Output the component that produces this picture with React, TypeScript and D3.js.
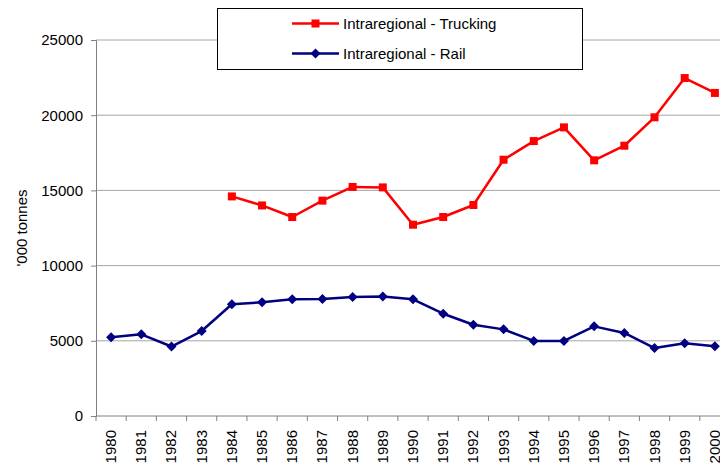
import React, { useRef, useEffect } from 'react';
import * as d3 from 'd3';

const years = ['1980', '1981', '1982', '1983', '1984', '1985', '1986', '1987', '1988', '1989', '1990',
  '1991', '1992', '1993', '1994', '1995', '1996', '1997', '1998', '1999', '2000'];

// trucking starts in 1984
const trucking = [null, null, null, null, 14600, 14000, 13230, 14320, 15230, 15200, 12720,
  13230, 14030, 17040, 18280, 19190, 17000, 17970, 19860, 22470, 21480];

const rail = [5240, 5430, 4620, 5650, 7430, 7560, 7760, 7780, 7910, 7950, 7760,
  6800, 6070, 5760, 4990, 4990, 5960, 5520, 4520, 4830, 4630];

const yTicks = [0, 5000, 10000, 15000, 20000, 25000];

const seriesInfo = [
  { name: 'Intraregional - Trucking', values: trucking, color: '#ff0000', marker: 'square' },
  { name: 'Intraregional - Rail', values: rail, color: '#000080', marker: 'diamond' }
];

const W = 720;
const H = 465;
const FONT = 'Liberation Sans, Arial, sans-serif';

const App = () => {
  const svgRef = useRef(null);

  useEffect(() => {
    const svg = d3.select(svgRef.current);
    svg.selectAll('*').remove();

    // plot area runs past the right edge of the picture, like the original
    const left = 96, right = 730, top = 40, bottom = 416;

    const x = d3.scaleBand().domain(years).range([left, right]);
    const y = d3.scaleLinear().domain([0, 25000]).range([bottom, top]);

    // gridlines
    svg.append('g')
      .selectAll('line')
      .data(yTicks.filter(t => t > 0))
      .enter()
      .append('line')
      .attr('x1', left).attr('x2', right)
      .attr('y1', d => y(d)).attr('y2', d => y(d))
      .attr('stroke', '#a6a6a6')
      .attr('stroke-width', 1);

    // y axis
    const yAxis = svg.append('g')
      .attr('transform', `translate(${left},0)`)
      .call(d3.axisLeft(y).tickValues(yTicks).tickSize(5).tickPadding(8).tickFormat(d3.format('d')));
    yAxis.select('.domain').attr('stroke', '#808080');
    yAxis.selectAll('.tick line').attr('stroke', '#808080');
    yAxis.selectAll('text')
      .attr('font-family', FONT).attr('font-size', 15).attr('fill', '#000');

    // x axis: ticks on category boundaries
    const xg = svg.append('g').attr('transform', `translate(0,${bottom})`);
    xg.append('line')
      .attr('x1', left).attr('x2', right)
      .attr('stroke', '#808080');
    xg.selectAll('.tk')
      .data(years.concat(['end']))
      .enter()
      .append('line')
      .attr('class', 'tk')
      .attr('x1', (d, i) => left + i * x.bandwidth())
      .attr('x2', (d, i) => left + i * x.bandwidth())
      .attr('y1', 0).attr('y2', 5)
      .attr('stroke', '#808080');
    xg.selectAll('text')
      .data(years)
      .enter()
      .append('text')
      .attr('transform', d => `translate(${x(d) + x.bandwidth() / 2 + 5},14) rotate(-90)`)
      .attr('text-anchor', 'end')
      .attr('font-family', FONT)
      .attr('font-size', 15)
      .text(d => d);

    // y axis title
    svg.append('text')
      .attr('transform', `translate(27,${(top + bottom) / 2}) rotate(-90)`)
      .attr('text-anchor', 'middle')
      .attr('font-family', FONT)
      .attr('font-size', 15)
      .text("'000 tonnes");

    const drawMarker = (g, cx, cy, s) => {
      if (s.marker === 'square') {
        g.append('rect')
          .attr('x', cx - 4).attr('y', cy - 4)
          .attr('width', 8).attr('height', 8)
          .attr('fill', s.color);
      } else {
        g.append('path')
          .attr('d', `M${cx},${cy - 5}L${cx + 5},${cy}L${cx},${cy + 5}L${cx - 5},${cy}Z`)
          .attr('fill', s.color);
      }
    };

    // series
    seriesInfo.forEach(s => {
      const pts = years.map((yr, i) => ({ yr, v: s.values[i] })).filter(p => p.v != null);
      const line = d3.line()
        .x(d => x(d.yr) + x.bandwidth() / 2)
        .y(d => y(d.v));
      const g = svg.append('g');
      g.append('path')
        .datum(pts)
        .attr('d', line)
        .attr('fill', 'none')
        .attr('stroke', s.color)
        .attr('stroke-width', 2.5)
        .attr('stroke-linejoin', 'round');
      pts.forEach(p => drawMarker(g, x(p.yr) + x.bandwidth() / 2, y(p.v), s));
    });

    // legend
    const lg = svg.append('g');
    lg.append('rect')
      .attr('x', 217.5).attr('y', 8.5)
      .attr('width', 365).attr('height', 61)
      .attr('fill', '#fff')
      .attr('stroke', '#000')
      .attr('stroke-width', 1);
    seriesInfo.forEach((s, i) => {
      const cy = 23.5 + i * 30;
      lg.append('line')
        .attr('x1', 292).attr('x2', 339)
        .attr('y1', cy).attr('y2', cy)
        .attr('stroke', s.color)
        .attr('stroke-width', 2.5);
      drawMarker(lg, 315.5, cy, s);
      lg.append('text')
        .attr('x', 343).attr('y', cy)
        .attr('dy', '0.35em')
        .attr('font-family', FONT)
        .attr('font-size', 15)
        .text(s.name);
    });
  }, []);

  return (
    <svg
      ref={svgRef}
      width={W}
      height={H}
      style={{ position: 'absolute', left: 0, top: 0, background: '#fff' }}
    />
  );
};

export default App;
